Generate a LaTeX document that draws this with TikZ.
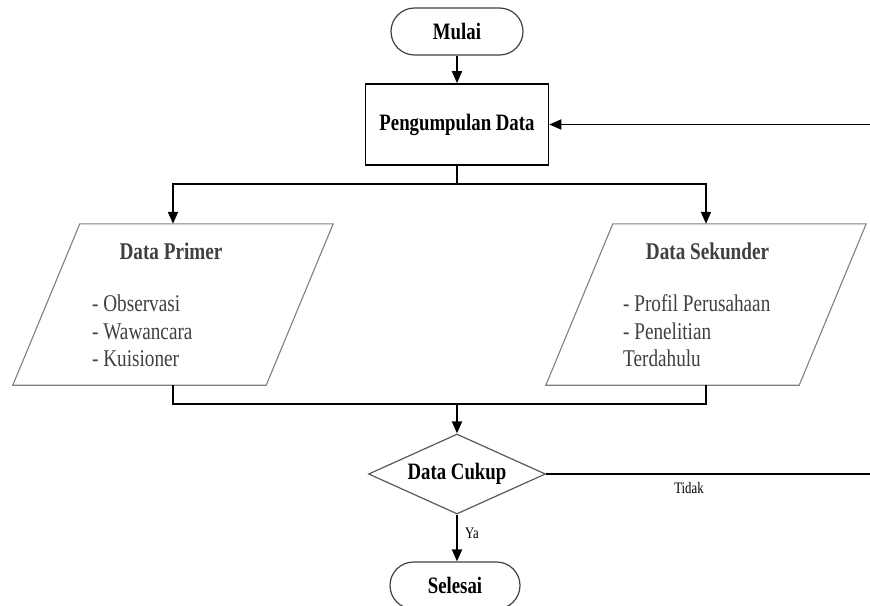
\documentclass[tikz,border=0pt]{standalone}
\usepackage{fontspec}
\setmainfont{Liberation Serif}[FakeStretch=0.8]
\usetikzlibrary{arrows.meta,shapes.geometric,shapes.misc}
\definecolor{txtgray}{HTML}{404040}
\definecolor{bordgray}{HTML}{808080}
\definecolor{decgray}{HTML}{595959}
\begin{document}
\begin{tikzpicture}[x=1pt,y=-1pt,
  conn/.style={line width=1.8pt, draw=black},
  arr/.style={conn, -{Triangle[length=12pt,width=10pt]}},
  term/.style={rounded rectangle, draw=txtgray, line width=1.2pt, fill=white,
    minimum width=132pt, minimum height=47pt, inner sep=0pt,
    font=\bfseries\fontsize{23.5}{27}\selectfont},
  procbox/.style={rectangle, draw=black, line width=1.6pt, fill=white,
    minimum width=183pt, minimum height=81pt, inner sep=0pt,
    font=\bfseries\fontsize{23.5}{27}\selectfont},
  parabody/.style={rectangle, minimum width=253pt, minimum height=161pt, inner sep=0pt},
  pborder/.style={draw=bordgray, line width=1.1pt, fill=white},
  ptitle/.style={text=txtgray, inner sep=0pt, font=\bfseries\fontsize{24}{28}\selectfont},
  pitem/.style={text=txtgray, inner sep=0pt, font=\fontsize{24}{28}\selectfont},
  dec/.style={diamond, draw=decgray, line width=1.2pt, fill=white, aspect=2.2,
    minimum width=177pt, minimum height=80pt, inner sep=0pt,
    font=\bfseries\fontsize{23.5}{27}\selectfont},
  small/.style={inner sep=0pt, font=\fontsize{16}{18}\selectfont}
]
\useasboundingbox (0,0) rectangle (870,605);
\clip (0,0) rectangle (870,605);

% nodes
\node[term] (mulai) at (457,31.5) {Mulai};
\node[procbox] (pd) at (457,124.5) {Pengumpulan Data};

\node[parabody] (prim) at (173,304.5) {};
\draw[pborder] ([xshift=33.5pt]prim.north west) -- ([xshift=33.5pt]prim.north east)
  -- ([xshift=-33.5pt]prim.south east) -- ([xshift=-33.5pt]prim.south west) -- cycle;
\node[ptitle, anchor=base] (primT) at (171,259) {Data Primer};
\node[pitem, anchor=base west] (primA) at (92,311.7) {- Observasi};
\node[pitem, anchor=base west] (primB) at (92,339) {- Wawancara};
\node[pitem, anchor=base west] (primC) at (92,366.5) {- Kuisioner};

\node[parabody] (sek) at (706,304.5) {};
\draw[pborder] ([xshift=33.5pt]sek.north west) -- ([xshift=33.5pt]sek.north east)
  -- ([xshift=-33.5pt]sek.south east) -- ([xshift=-33.5pt]sek.south west) -- cycle;
\node[ptitle, anchor=base] (sekT) at (707.5,259) {Data Sekunder};
\node[pitem, anchor=base west] (sekA) at (623,311.7) {- Profil Perusahaan};
\node[pitem, anchor=base west] (sekB) at (623,339) {- Penelitian};
\node[pitem, anchor=base west] (sekC) at (623,366.5) {Terdahulu};

\node[dec] (dc) at (457,474) {Data Cukup};
\node[term, minimum width=130pt] (sel) at (455,585.5) {Selesai};

% connectors
\draw[arr] (mulai.south) -- (mulai.south |- pd.north);
\coordinate (s1) at (457,184);
\draw[conn] (pd.south) -- (s1);
\draw[arr] (s1) -| (prim.north);
\draw[arr] (s1) -| (sek.north);
\coordinate (m1) at (457,404);
\draw[conn] (prim.south) |- (m1) -| (sek.south);
\draw[arr] (m1) -- (dc.north);
\draw[arr] (dc.south) -- (dc.south |- sel.north);
\coordinate (rt) at (900,474);
\draw[arr] (dc.east) -- (rt) |- (pd.east);

\node[small, anchor=base west] (ya) at (465,538) {Ya};
\node[small, anchor=base] (tidak) at (689,493) {Tidak};
\end{tikzpicture}
\end{document}
